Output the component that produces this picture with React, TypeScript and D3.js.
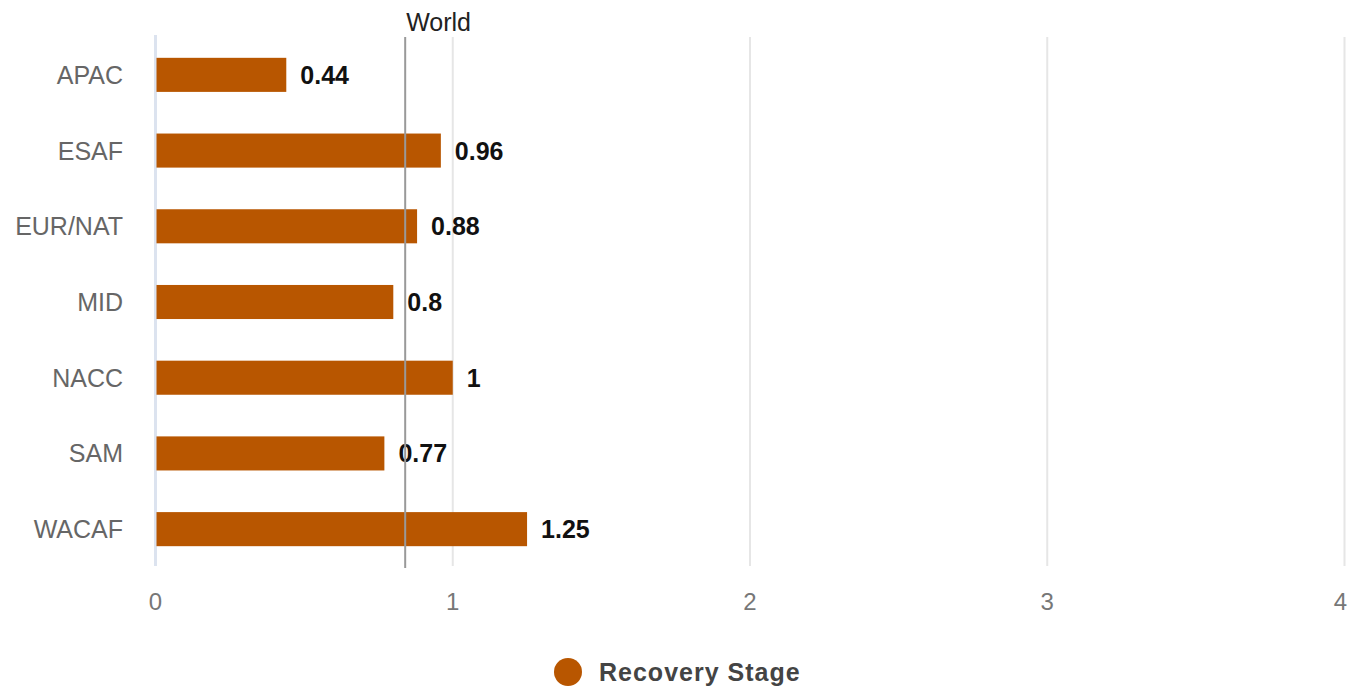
import React from "react";
import * as d3 from "d3";

const categories = ["APAC", "ESAF", "EUR/NAT", "MID", "NACC", "SAM", "WACAF"];
const values = [0.44, 0.96, 0.88, 0.8, 1, 0.77, 1.25];
const worldValue = 0.84;
const xTicks = [0, 1, 2, 3, 4];
const seriesName = "Recovery Stage";
const referenceLabel = "World";

const W = 1349;
const H = 690;
const BAR = "#b85600";

export default function App() {
  const x = d3.scaleLinear().domain([0, 4]).range([155.5, 1344.5]);
  const y = d3
    .scaleBand<string>()
    .domain(categories)
    .range([37, 567])
    .paddingInner(0.55)
    .paddingOuter(0.275);
  const font = "Arial, 'Liberation Sans', sans-serif";
  return (
    <div style={{ position: "absolute", left: 0, top: 0 }}>
      <svg width={W} height={H} style={{ display: "block", fontFamily: font }}>
        <rect width={W} height={H} fill="#fff" />
        {xTicks.map((t) =>
          t === 0 ? null : (
            <line key={t} x1={x(t)} x2={x(t)} y1={37} y2={566} stroke="#e6e6e6" strokeWidth={2} />
          )
        )}
        <line x1={x(0)} x2={x(0)} y1={35} y2={566} stroke="#dce3ef" strokeWidth={3} />
        {xTicks.map((t, i) => {
          const last = i === xTicks.length - 1;
          return (
            <text
              key={t}
              x={last ? W - 2 : x(t)}
              y={610}
              fontSize={24}
              fill="#777"
              textAnchor={last ? "end" : "middle"}
            >
              {t}
            </text>
          );
        })}
        {categories.map((c, i) => {
          const yc = (y(c) as number) + y.bandwidth() / 2;
          return (
            <g key={c}>
              <text x={123} y={yc + 9} fontSize={25} fill="#666" textAnchor="end">
                {c}
              </text>
              <rect
                x={x(0) + 1}
                y={y(c)}
                width={x(values[i]) - x(0) - 1}
                height={y.bandwidth()}
                fill={BAR}
              />
              <text x={x(values[i]) + 14} y={yc + 9} fontSize={25} fontWeight="bold" fill="#111">
                {values[i]}
              </text>
            </g>
          );
        })}
        <line x1={x(worldValue)} x2={x(worldValue)} y1={37} y2={568} stroke="#999" strokeWidth={2} />
        <text x={x(worldValue) + 1} y={31} fontSize={25} fill="#222">
          {referenceLabel}
        </text>
        <circle cx={568} cy={672} r={14} fill={BAR} />
        <text x={599} y={681} fontSize={25} fontWeight="bold" fill="#444" letterSpacing={1}>
          {seriesName}
        </text>
      </svg>
    </div>
  );
}
